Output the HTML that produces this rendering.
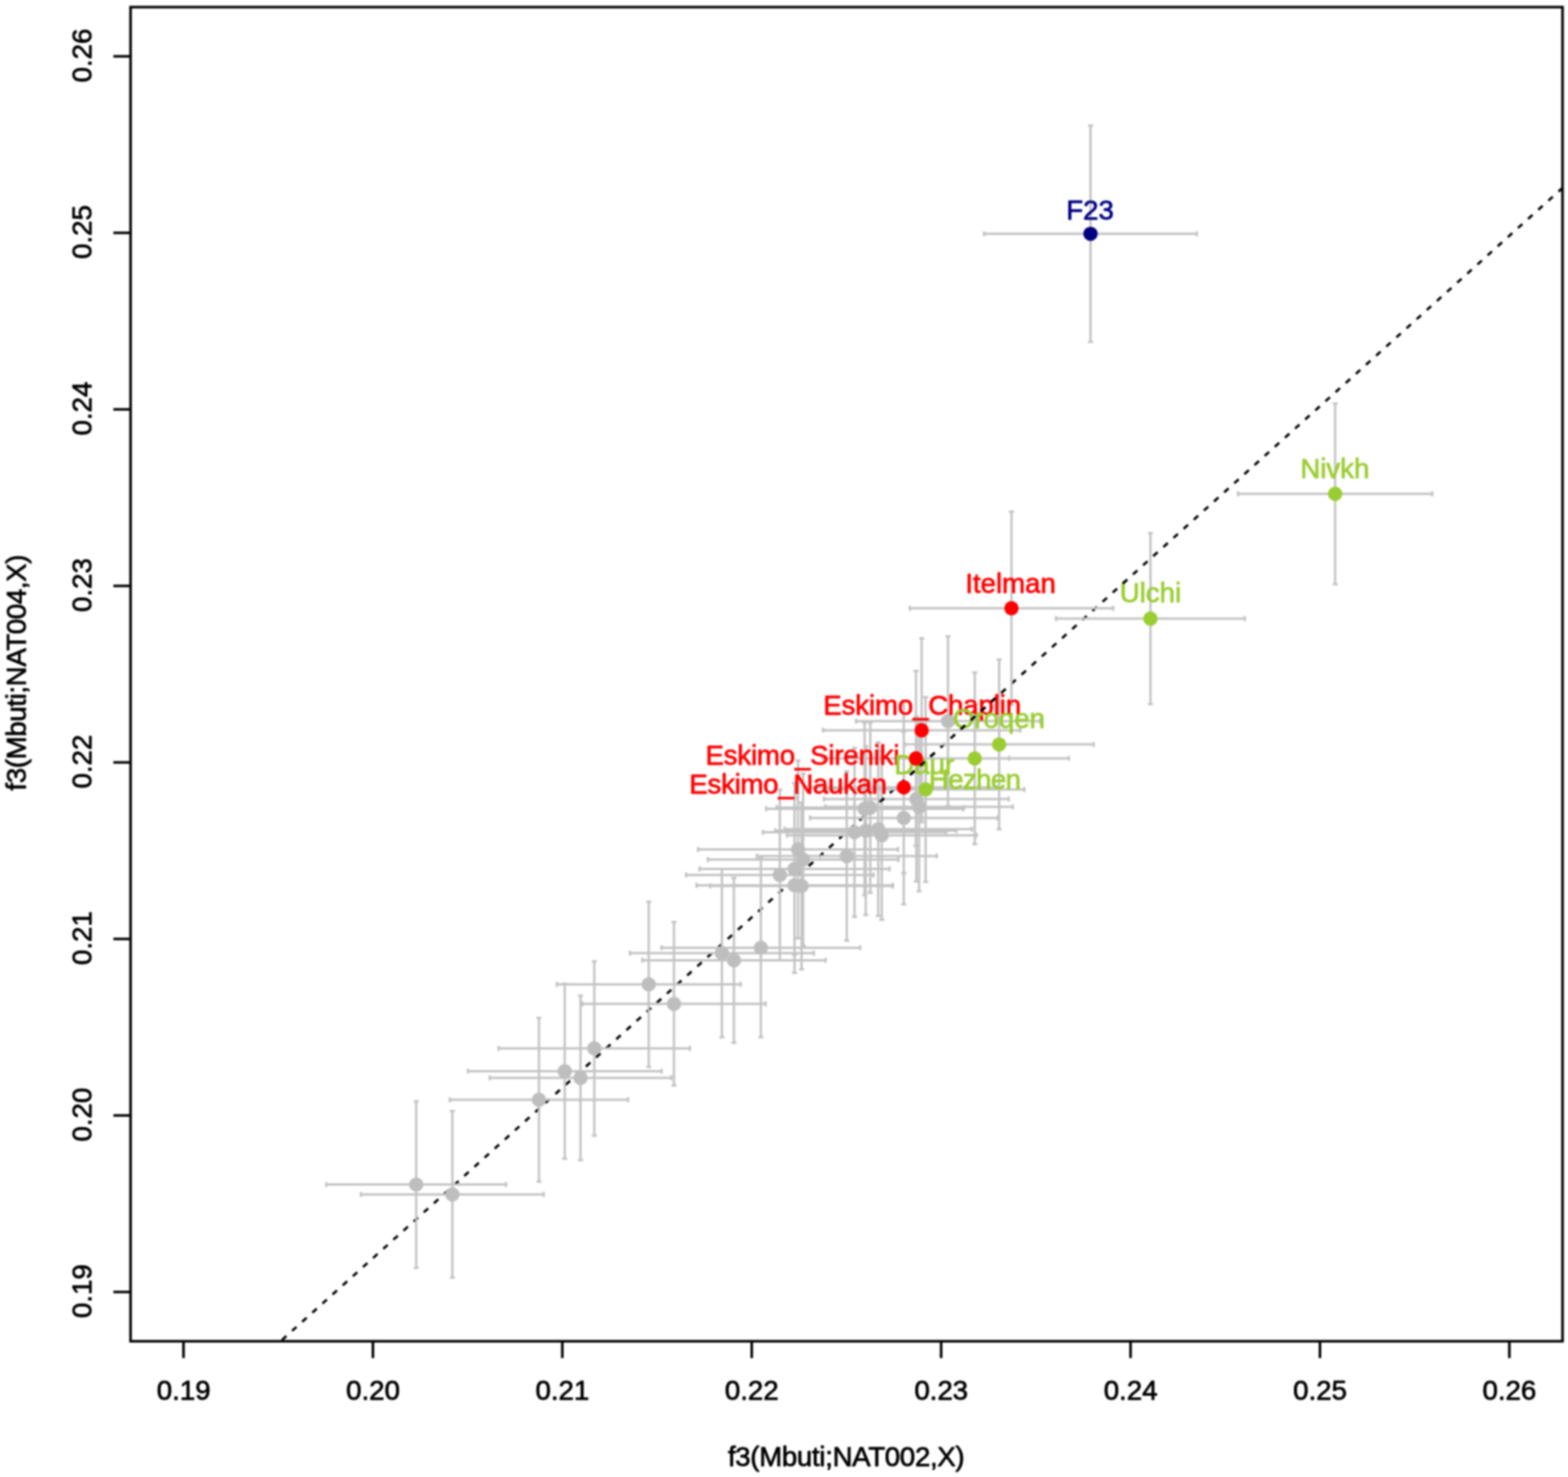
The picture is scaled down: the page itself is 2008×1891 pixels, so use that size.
<!DOCTYPE html>
<html><head><meta charset="utf-8"><title>f3 plot</title>
<style>html,body{margin:0;padding:0;background:#fff;}svg{display:block;filter:blur(0.8px);}text{font-family:"Liberation Sans",Arial,Helvetica,sans-serif;stroke-width:0.9px;stroke-linejoin:round;}</style>
</head><body>
<svg xmlns="http://www.w3.org/2000/svg" width="2008" height="1891" viewBox="0 0 2008 1891">
<rect x="0" y="0" width="2008" height="1891" fill="#fff"/>
<defs>
<clipPath id="plotclip"><rect x="167.2" y="9.1" width="1833.8" height="1708.1"/></clipPath>
</defs>
<g>
<line x1="336.39" y1="1737.76" x2="2023.31" y2="220.54" stroke="#000" stroke-width="3.1" stroke-dasharray="7.6 9.85" stroke-dashoffset="1.72" clip-path="url(#plotclip)"/>
<path clip-path="url(#plotclip)" d="M417.9 1516.6H648.1M533 1410V1623.2M417.9 1513.4V1519.8M648.1 1513.4V1519.8M529.8 1410H536.2M529.8 1623.2H536.2M462.3 1529.2H696.3M579.3 1422.6V1635.8M462.3 1526V1532.4M696.3 1526V1532.4M576.1 1422.6H582.5M576.1 1635.8H582.5M576 1408H804.4M690.2 1303.3V1512.7M576 1404.8V1411.2M804.4 1404.8V1411.2M687 1303.3H693.4M687 1512.7H693.4M599.2 1371.4H847.2M723.2 1259.4V1483.4M599.2 1368.2V1374.6M847.2 1368.2V1374.6M720 1259.4H726.4M720 1483.4H726.4M627.1 1380H859.7M743.4 1274.7V1485.3M627.1 1376.8V1383.2M859.7 1376.8V1383.2M740.2 1274.7H746.6M740.2 1485.3H746.6M638.6 1342.3H883.6M761.1 1230.7V1453.9M638.6 1339.1V1345.5M883.6 1339.1V1345.5M757.9 1230.7H764.3M757.9 1453.9H764.3M713.1 1260.3H948.5M830.8 1154.6V1366M713.1 1257.1V1263.5M948.5 1257.1V1263.5M827.6 1154.6H834M827.6 1366H834M745.8 1285.2H980.4M863.1 1180.6V1389.8M745.8 1282V1288.4M980.4 1282V1288.4M859.9 1180.6H866.3M859.9 1389.8H866.3M806.8 1220.2H1042.2M924.5 1112.5V1327.9M806.8 1217V1223.4M1042.2 1217V1223.4M921.3 1112.5H927.7M921.3 1327.9H927.7M822.6 1229.4H1057.2M939.9 1123.9V1334.9M822.6 1226.2V1232.6M1057.2 1226.2V1232.6M936.7 1123.9H943.1M936.7 1334.9H943.1M847.1 1213.4H1101.7M974.4 1098.9V1327.9M847.1 1210.2V1216.6M1101.7 1210.2V1216.6M971.2 1098.9H977.6M971.2 1327.9H977.6M878.7 1120.3H1118.7M998.7 1011.1V1229.5M878.7 1117.1V1123.5M1118.7 1117.1V1123.5M995.5 1011.1H1001.9M995.5 1229.5H1001.9M892 1133.5H1143M1017.5 1021.5V1245.5M892 1130.3V1136.7M1143 1130.3V1136.7M1014.3 1021.5H1020.7M1014.3 1245.5H1020.7M909.5 1134.3H1143.5M1026.5 1027.7V1240.9M909.5 1131.1V1137.5M1143.5 1131.1V1137.5M1023.3 1027.7H1029.7M1023.3 1240.9H1029.7M895.8 1112.5H1139.2M1017.5 1002.5V1222.5M895.8 1109.3V1115.7M1139.2 1109.3V1115.7M1014.3 1002.5H1020.7M1014.3 1222.5H1020.7M906.5 1100.5H1150.5M1028.5 990.5V1210.5M906.5 1097.3V1103.7M1150.5 1097.3V1103.7M1025.3 990.5H1031.7M1025.3 1210.5H1031.7M894 1087.5H1150M1022 973.7V1201.3M894 1084.3V1090.7M1150 1084.3V1090.7M1018.8 973.7H1025.2M1018.8 1201.3H1025.2M969.1 1095.9H1199.7M1084.4 987.6V1204.2M969.1 1092.7V1099.1M1199.7 1092.7V1099.1M1081.2 987.6H1087.6M1081.2 1204.2H1087.6M976.9 1065.6H1211.7M1094.3 957.5V1173.7M976.9 1062.4V1068.8M1211.7 1062.4V1068.8M1091.1 957.5H1097.5M1091.1 1173.7H1097.5M992.6 1063.6H1224.8M1108.7 955.6V1171.6M992.6 1060.4V1066.8M1224.8 1060.4V1066.8M1105.5 955.6H1111.9M1105.5 1171.6H1111.9M1004.7 1061.6H1244.7M1124.7 950.4V1172.8M1004.7 1058.4V1064.8M1244.7 1058.4V1064.8M1121.5 950.4H1127.9M1121.5 1172.8H1127.9M1007.7 1069.4H1250.7M1129.2 961.4V1177.4M1007.7 1066.2V1072.6M1250.7 1066.2V1072.6M1126 961.4H1132.4M1126 1177.4H1132.4M981.1 1035.5H1233.3M1107.2 925V1146M981.1 1032.3V1038.7M1233.3 1032.3V1038.7M1104 925H1110.4M1104 1146H1110.4M994.5 1034H1234.5M1114.5 925V1143M994.5 1030.8V1037.2M1234.5 1030.8V1037.2M1111.3 925H1117.7M1111.3 1143H1117.7M1037.4 1047.2H1277.4M1157.4 936.7V1157.7M1037.4 1044V1050.4M1277.4 1044V1050.4M1154.2 936.7H1160.6M1154.2 1157.7H1160.6M1055.2 1023H1291.8M1173.5 917.4V1128.6M1055.2 1019.8V1026.2M1291.8 1019.8V1026.2M1170.3 917.4H1176.7M1170.3 1128.6H1176.7M1057 1033H1297M1177 925V1141M1057 1029.8V1036.2M1297 1029.8V1036.2M1173.8 925H1180.2M1173.8 1141H1180.2M1096.3 923.2H1331.7M1214 814.7V1031.7M1096.3 920V926.4M1331.7 920V926.4M1210.8 814.7H1217.2M1210.8 1031.7H1217.2M1260.2 299.35H1532.8M1396.5 160.85V437.85M1260.2 296.15V302.55M1532.8 296.15V302.55M1393.3 160.85H1399.7M1393.3 437.85H1399.7M1585.4 632.3H1834.2M1709.8 516.7V747.9M1585.4 629.1V635.5M1834.2 629.1V635.5M1706.6 516.7H1713M1706.6 747.9H1713M1352.4 792H1594.2M1473.3 682.6V901.4M1352.4 788.8V795.2M1594.2 788.8V795.2M1470.1 682.6H1476.5M1470.1 901.4H1476.5M1165.1 778.8H1425.5M1295.3 655V902.6M1165.1 775.6V782M1425.5 775.6V782M1292.1 655H1298.5M1292.1 902.6H1298.5M1054 934.9H1306.6M1180.3 817.2V1052.6M1054 931.7V938.1M1306.6 931.7V938.1M1177.1 817.2H1183.5M1177.1 1052.6H1183.5M1158.5 953.1H1400.5M1279.5 844.4V1061.8M1158.5 949.9V956.3M1400.5 949.9V956.3M1276.3 844.4H1282.7M1276.3 1061.8H1282.7M1053.6 970.9H1292.4M1173 859V1082.8M1053.6 967.7V974.1M1292.4 967.7V974.1M1169.8 859H1176.2M1169.8 1082.8H1176.2M1127.8 970.9H1368.8M1248.3 861V1080.8M1127.8 967.7V974.1M1368.8 967.7V974.1M1245.1 861H1251.5M1245.1 1080.8H1251.5M1037.4 1008H1277.4M1157.4 898.2V1117.8M1037.4 1004.8V1011.2M1277.4 1004.8V1011.2M1154.2 898.2H1160.6M1154.2 1117.8H1160.6M1059 1010.8H1311.8M1185.4 892.6V1129M1059 1007.6V1014M1311.8 1007.6V1014M1182.2 892.6H1188.6M1182.2 1129H1188.6" stroke="#c4c4c4" stroke-width="3" fill="none"/>
<g fill="#bebebe" clip-path="url(#plotclip)">
<circle cx="533" cy="1516.6" r="9.2"/>
<circle cx="579.3" cy="1529.2" r="9.2"/>
<circle cx="690.2" cy="1408" r="9.2"/>
<circle cx="723.2" cy="1371.4" r="9.2"/>
<circle cx="743.4" cy="1380" r="9.2"/>
<circle cx="761.1" cy="1342.3" r="9.2"/>
<circle cx="830.8" cy="1260.3" r="9.2"/>
<circle cx="863.1" cy="1285.2" r="9.2"/>
<circle cx="924.5" cy="1220.2" r="9.2"/>
<circle cx="939.9" cy="1229.4" r="9.2"/>
<circle cx="974.4" cy="1213.4" r="9.2"/>
<circle cx="998.7" cy="1120.3" r="9.2"/>
<circle cx="1017.5" cy="1133.5" r="9.2"/>
<circle cx="1026.5" cy="1134.3" r="9.2"/>
<circle cx="1017.5" cy="1112.5" r="9.2"/>
<circle cx="1028.5" cy="1100.5" r="9.2"/>
<circle cx="1022" cy="1087.5" r="9.2"/>
<circle cx="1084.4" cy="1095.9" r="9.2"/>
<circle cx="1094.3" cy="1065.6" r="9.2"/>
<circle cx="1108.7" cy="1063.6" r="9.2"/>
<circle cx="1124.7" cy="1061.6" r="9.2"/>
<circle cx="1129.2" cy="1069.4" r="9.2"/>
<circle cx="1107.2" cy="1035.5" r="9.2"/>
<circle cx="1114.5" cy="1034" r="9.2"/>
<circle cx="1157.4" cy="1047.2" r="9.2"/>
<circle cx="1173.5" cy="1023" r="9.2"/>
<circle cx="1177" cy="1033" r="9.2"/>
<circle cx="1214" cy="923.2" r="9.2"/>
</g>
<text transform="translate(1365.38 280.6) scale(1 1.0)" font-size="35.4" fill="#000080" stroke="#000080">F23</text>
<text transform="translate(1665.2 611.7) scale(1 1.0)" font-size="35.4" fill="#9acd32" stroke="#9acd32">Nivkh</text>
<text transform="translate(1433.88 770.7) scale(1 1.0)" font-size="35.4" fill="#9acd32" stroke="#9acd32">Ulchi</text>
<text transform="translate(1236.13 759.1) scale(1 1.0)" font-size="35.4" fill="#ff0000" stroke="#ff0000">Itelman</text>
<text transform="translate(1054.35 915) scale(1 1.0)" font-size="35.4" fill="#ff0000" stroke="#ff0000" textLength="253.23">Eskimo_Chaplin</text>
<text transform="translate(1220.24 931.9) scale(1 1.0)" font-size="35.4" fill="#9acd32" stroke="#9acd32">Oroqen</text>
<text transform="translate(903.45 979) scale(1 1.0)" font-size="35.4" fill="#ff0000" stroke="#ff0000" textLength="248.39">Eskimo_Sireniki</text>
<text transform="translate(1145.29 991.1) scale(1 1.0)" font-size="35.4" fill="#9acd32" stroke="#9acd32">Daur</text>
<text transform="translate(882.85 1016.4) scale(1 1.0)" font-size="35.4" fill="#ff0000" stroke="#ff0000" textLength="253.21">Eskimo_Naukan</text>
<text transform="translate(1189.55 1010.4) scale(1 1.0)" font-size="35.4" fill="#9acd32" stroke="#9acd32" textLength="118">Hezhen</text>
<clipPath id="lblclip"><rect x="1366.3" y="251.4" width="60.5" height="38"/><rect x="1665.1" y="583.7" width="89.3" height="38"/><rect x="1433.8" y="742.7" width="79.2" height="38"/><rect x="1237.1" y="730" width="115.1" height="38"/><rect x="1054.3" y="887" width="253.9" height="38"/><rect x="1219.6" y="903.9" width="118.7" height="38"/><rect x="903.4" y="951" width="249" height="38"/><rect x="1146" y="963.1" width="77.6" height="38"/><rect x="882.8" y="988.4" width="253.9" height="38"/><rect x="1189.5" y="982.4" width="118.7" height="38"/></clipPath>
<g clip-path="url(#lblclip)"><line x1="336.39" y1="1737.76" x2="2023.31" y2="220.54" stroke="#000" stroke-width="3.1" stroke-dasharray="7.6 9.85" stroke-dashoffset="1.72" clip-path="url(#plotclip)"/></g>
<circle cx="1396.5" cy="299.35" r="9.2" fill="#000080"/>
<circle cx="1709.8" cy="632.3" r="9.2" fill="#9acd32"/>
<circle cx="1473.3" cy="792" r="9.2" fill="#9acd32"/>
<circle cx="1295.3" cy="778.8" r="9.2" fill="#ff0000"/>
<circle cx="1180.3" cy="934.9" r="9.2" fill="#ff0000"/>
<circle cx="1279.5" cy="953.1" r="9.2" fill="#9acd32"/>
<circle cx="1173" cy="970.9" r="9.2" fill="#ff0000"/>
<circle cx="1248.3" cy="970.9" r="9.2" fill="#9acd32"/>
<circle cx="1157.4" cy="1008" r="9.2" fill="#ff0000"/>
<circle cx="1185.4" cy="1010.8" r="9.2" fill="#9acd32"/>
<rect x="167.2" y="9.1" width="1833.8" height="1708.1" fill="none" stroke="#000" stroke-width="3.3"/>
<path d="M235 1717.2V1738.7M167.2 72.05H145.2M477.56 1717.2V1738.7M167.2 298.07H145.2M720.12 1717.2V1738.7M167.2 524.09H145.2M962.68 1717.2V1738.7M167.2 750.11H145.2M1205.24 1717.2V1738.7M167.2 976.13H145.2M1447.8 1717.2V1738.7M167.2 1202.15H145.2M1690.36 1717.2V1738.7M167.2 1428.17H145.2M1932.92 1717.2V1738.7M167.2 1654.19H145.2" stroke="#000" stroke-width="3.3" fill="none"/>
<text transform="translate(200.7 1792.2) scale(1 1.0)" font-size="35.4" fill="#000" stroke="#000">0.19</text>
<text transform="translate(443.2 1792.2) scale(1 1.0)" font-size="35.4" fill="#000" stroke="#000">0.20</text>
<text transform="translate(685.82 1792.2) scale(1 1.0)" font-size="35.4" fill="#000" stroke="#000">0.21</text>
<text transform="translate(928.32 1792.2) scale(1 1.0)" font-size="35.4" fill="#000" stroke="#000">0.22</text>
<text transform="translate(1170.88 1792.2) scale(1 1.0)" font-size="35.4" fill="#000" stroke="#000">0.23</text>
<text transform="translate(1413.44 1792.2) scale(1 1.0)" font-size="35.4" fill="#000" stroke="#000">0.24</text>
<text transform="translate(1656 1792.2) scale(1 1.0)" font-size="35.4" fill="#000" stroke="#000">0.25</text>
<text transform="translate(1898.56 1792.2) scale(1 1.0)" font-size="35.4" fill="#000" stroke="#000">0.26</text>
<text transform="translate(117.4 71.05) rotate(-90) scale(1 1.0)" x="-34.36" y="0" font-size="35.4" fill="#000" stroke="#000">0.26</text>
<text transform="translate(117.4 297.07) rotate(-90) scale(1 1.0)" x="-34.36" y="0" font-size="35.4" fill="#000" stroke="#000">0.25</text>
<text transform="translate(117.4 523.09) rotate(-90) scale(1 1.0)" x="-34.36" y="0" font-size="35.4" fill="#000" stroke="#000">0.24</text>
<text transform="translate(117.4 749.11) rotate(-90) scale(1 1.0)" x="-34.36" y="0" font-size="35.4" fill="#000" stroke="#000">0.23</text>
<text transform="translate(117.4 975.13) rotate(-90) scale(1 1.0)" x="-34.36" y="0" font-size="35.4" fill="#000" stroke="#000">0.22</text>
<text transform="translate(117.4 1201.15) rotate(-90) scale(1 1.0)" x="-34.3" y="0" font-size="35.4" fill="#000" stroke="#000">0.21</text>
<text transform="translate(117.4 1427.17) rotate(-90) scale(1 1.0)" x="-34.36" y="0" font-size="35.4" fill="#000" stroke="#000">0.20</text>
<text transform="translate(117.4 1653.19) rotate(-90) scale(1 1.0)" x="-34.3" y="0" font-size="35.4" fill="#000" stroke="#000">0.19</text>
<text transform="translate(932.15 1877.4) scale(1 1.0)" font-size="35.4" fill="#000" stroke="#000" textLength="303.2">f3(Mbuti;NAT002,X)</text>
<text transform="translate(33.3 861.9) rotate(-90) scale(1 1.0)" x="-150.25" y="0" font-size="35.4" fill="#000" stroke="#000" textLength="302.2">f3(Mbuti;NAT004,X)</text>
</g>
</svg>
</body></html>
